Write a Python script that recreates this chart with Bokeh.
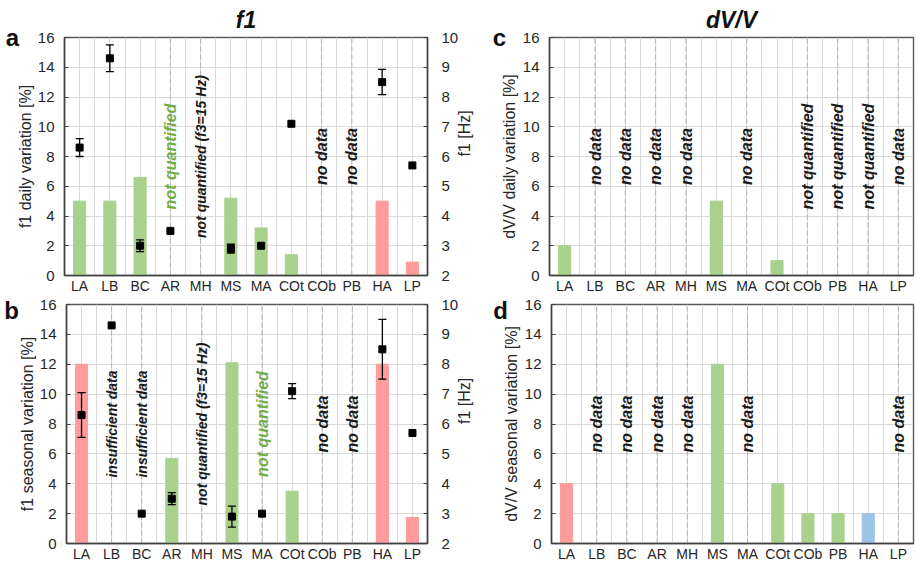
import math
from bokeh.plotting import figure
from bokeh.models import (ColumnDataSource, Range1d, LinearAxis, FixedTicker,
                          Whisker, TeeHead, Label)
from bokeh.layouts import column, row
from bokeh.embed import file_html
from bokeh.resources import INLINE
from bokeh.core.properties import value

# ---------------- data ----------------
sites = ["LA", "LB", "BC", "AR", "MH", "MS", "MA", "COt", "COb", "PB", "HA", "LP"]

# f1 fundamental frequency [Hz] (right axis, panels a & b)
f1_hz = [6.3, 9.3, 3.0, 3.5, None, 2.9, 3.0, 7.1, None, None, 8.5, 5.7]

# error ranges [Hz]
a_err_lo = [6.0, 8.85, 2.8, None, None, 2.75, None, None, None, None, 8.08, None]
a_err_hi = [6.6, 9.75, 3.2, None, None, 3.05, None, None, None, None, 8.93, None]
b_err_lo = [5.55, None, None, 3.3, None, 2.55, None, 6.85, None, None, 7.5, None]
b_err_hi = [7.05, None, None, 3.7, None, 3.25, None, 7.35, None, None, 9.5, None]

# variation bars [%]
a_bars = [5.0, 5.0, 6.6, None, None, 5.2, 3.2, 1.4, None, None, 5.0, 0.9]
a_kind = ["g", "g", "g", None, None, "g", "g", "g", None, None, "r", "r"]
b_bars = [12.0, None, None, 5.7, None, 12.1, None, 3.5, None, None, 12.0, 1.75]
b_kind = ["r", None, None, "g", None, "g", None, "g", None, None, "r", "r"]
c_bars = [2.0, None, None, None, None, 5.0, None, 1.0, None, None, None, None]
c_kind = ["g", None, None, None, None, "g", None, "g", None, None, None, None]
d_bars = [4.0, None, None, None, None, 12.0, None, 4.0, 2.0, 2.0, 2.0, None]
d_kind = ["r", None, None, None, None, "g", None, "g", "g", "g", "b", None]

# annotations (site, text, kind)
a_notes = [("AR", "not quantified", "g"), ("MH", "not quantified (f3=15 Hz)", "k"),
           ("COb", "no data", "k"), ("PB", "no data", "k")]
b_notes = [("LB", "insufficient data", "k"), ("BC", "insufficient data", "k"),
           ("MH", "not quantified (f3=15 Hz)", "k"), ("MA", "not quantified", "g"),
           ("COb", "no data", "k"), ("PB", "no data", "k")]
c_notes = [("LB", "no data", "k"), ("BC", "no data", "k"), ("AR", "no data", "k"),
           ("MH", "no data", "k"), ("MA", "no data", "k"), ("COb", "not quantified", "k"),
           ("PB", "not quantified", "k"), ("HA", "not quantified", "k"), ("LP", "no data", "k")]
d_notes = [("LB", "no data", "k"), ("BC", "no data", "k"), ("AR", "no data", "k"),
           ("MH", "no data", "k"), ("MA", "no data", "k"), ("LP", "no data", "k")]

left_ticks = [0, 2, 4, 6, 8, 10, 12, 14, 16]
right_ticks = [2, 3, 4, 5, 6, 7, 8, 9, 10]

# ---------------- style ----------------
FONT = "Liberation Sans"
BAR_COL = {"g": "#a9d18e", "r": "#ff9b9b", "b": "#9dc3e6"}
TXT_COL = {"g": "#70ad47", "k": "#1a1a1a"}
NOTE_SIZE = {"no data": "16px", "not quantified": "16px",
             "insufficient data": "14px", "not quantified (f3=15 Hz)": "14px"}
GRID = "#d9d9d9"
AXC = "#404040"
pos = {s: i + 0.5 for i, s in enumerate(sites)}


def style_axis(ax, label_size="16px"):
    ax.axis_line_color = AXC
    ax.axis_line_width = 1.5
    ax.major_label_text_font = FONT
    ax.major_label_text_color = "#262626"
    ax.minor_tick_line_color = None
    ax.axis_label_text_font = FONT
    ax.axis_label_text_font_size = label_size
    ax.axis_label_text_font_style = "normal"
    ax.axis_label_text_color = "#262626"


def make_panel(width, height, mb_left, mb_right, mb_top, mb_bottom, bars, kinds, notes,
               ylabel, letter, letter_xy, ystand, lstand, title=None, hz=False, err=None):
    p = figure(width=width, height=height, output_backend="svg", toolbar_location=None,
               x_range=Range1d(0, 12), y_range=Range1d(0, 16),
               min_border_left=mb_left, min_border_right=mb_right,
               min_border_top=mb_top, min_border_bottom=mb_bottom)
    p.background_fill_color = "white"
    p.outline_line_color = "#595959"
    p.outline_line_width = 1.4
    if title:
        p.title.text = title
        p.title.align = "center"
        p.title.text_font = FONT
        p.title.text_font_size = "23px"
        p.title.text_font_style = "bold italic"
        p.title.text_color = "#111111"
        p.title.standoff = 9
    # grids
    p.xgrid.ticker = FixedTicker(ticks=[i * 0.5 for i in range(25)])
    p.ygrid.ticker = FixedTicker(ticks=left_ticks)
    for g in (p.xgrid, p.ygrid):
        g.grid_line_color = GRID
        g.grid_line_width = 1
    # axes
    p.xaxis.ticker = FixedTicker(ticks=[pos[s] for s in sites])
    p.xaxis.major_label_overrides = {pos[s]: s for s in sites}
    p.yaxis.ticker = FixedTicker(ticks=left_ticks)
    style_axis(p.xaxis[0])
    style_axis(p.yaxis[0])
    p.xaxis.major_label_text_font_size = "14px"
    p.xaxis.major_tick_line_color = None
    p.xaxis.major_tick_in = 0
    p.xaxis.major_tick_out = 0
    p.xaxis.major_label_standoff = 2
    p.yaxis.major_label_text_font_size = "15px"
    p.yaxis.major_tick_in = 4
    p.yaxis.major_tick_out = 0
    p.yaxis.major_tick_line_color = AXC
    p.yaxis.major_label_standoff = ystand
    p.yaxis.axis_label = ylabel
    p.yaxis.axis_label_standoff = lstand

    # dashed lines for annotated sites
    ds = ColumnDataSource(dict(x=[pos[s] for s, _, _ in notes],
                               y0=[0] * len(notes), y1=[16] * len(notes)))
    p.segment(x0="x", y0="y0", x1="x", y1="y1", source=ds, line_color="#b3b3b3",
              line_width=1, line_dash="5 3")

    # bars
    bx, bt, bc = [], [], []
    for s, v, k in zip(sites, bars, kinds):
        if v is not None:
            bx.append(pos[s]); bt.append(v); bc.append(BAR_COL[k])
    p.vbar(x="x", top="top", width=0.4, bottom=0, color="c",
           source=ColumnDataSource(dict(x=bx, top=bt, c=bc)))

    # annotations
    ns = ColumnDataSource(dict(x=[pos[s] for s, _, _ in notes], y=[8] * len(notes),
                               t=[t for _, t, _ in notes],
                               c=[TXT_COL[k] for _, _, k in notes],
                               fs=[NOTE_SIZE[t] for _, t, _ in notes]))
    p.text(x="x", y="y", text="t", source=ns, angle=math.pi / 2, text_align="center",
           text_baseline="middle", text_color="c", text_font=value(FONT),
           text_font_size="fs", text_font_style="bold italic")

    # right axis with f1
    if hz:
        p.extra_y_ranges = {"hz": Range1d(2, 10)}
        ra = LinearAxis(y_range_name="hz", ticker=FixedTicker(ticks=right_ticks),
                        axis_label="f1 [Hz]")
        style_axis(ra)
        ra.major_label_text_font_size = "15px"
        ra.major_tick_in = 4
        ra.major_tick_out = 0
        ra.major_tick_line_color = AXC
        ra.major_label_standoff = 14
        ra.axis_label_standoff = 3
        try:
            ra.axis_label_orientation = math.pi / 2
        except Exception:
            pass
        p.add_layout(ra, "right")
        lo, hi = err
        ex, el, eh = [], [], []
        for s, a, b in zip(sites, lo, hi):
            if a is not None:
                ex.append(pos[s]); el.append(a); eh.append(b)
        es = ColumnDataSource(dict(x=ex, lo=el, hi=eh))
        w = Whisker(base="x", lower="lo", upper="hi", source=es, y_range_name="hz",
                    line_color="black", line_width=1.3, level="overlay",
                    upper_head=TeeHead(size=8, line_color="black", line_width=1.3),
                    lower_head=TeeHead(size=8, line_color="black", line_width=1.3))
        p.add_layout(w)
        px_, py_ = [], []
        for s, v in zip(sites, f1_hz):
            if v is not None:
                px_.append(pos[s]); py_.append(v)
        p.scatter(x="x", y="y", source=ColumnDataSource(dict(x=px_, y=py_)),
                  y_range_name="hz", marker="square", size=7, color="black")

    # panel letter (in a side panel, canvas coordinates, so it is not clipped)
    try:
        lab = Label(x=letter_xy[0], y=letter_xy[1], x_units="canvas", y_units="canvas",
                    text=letter, text_font=FONT, text_font_size="24px",
                    text_font_style="bold", text_color="#111111", text_align="center",
                    text_baseline=letter_xy[2])
    except Exception:
        lab = Label(x=letter_xy[0], y=letter_xy[1], x_units="screen", y_units="screen",
                    text=letter, text_font=FONT, text_font_size="24px",
                    text_font_style="bold", text_color="#111111", text_align="center",
                    text_baseline=letter_xy[2])
    p.add_layout(lab, "left")
    return p


# figure a: x 0-484, y 0-296 ; figure c: x 484-915 ; bottom row y 296-564
pa = make_panel(484, 296, 63, 57, 37, 20, a_bars, a_kind, a_notes,
                "f1 daily variation [%]", "a", (12, 37, "middle"), 10, 1, title="f1",
                hz=True, err=(a_err_lo, a_err_hi))
pb = make_panel(484, 268, 63, 57, 8, 21, b_bars, b_kind, b_notes,
                "f1 seasonal variation [%]", "b", (11, 0, "top"), 10, 1,
                hz=True, err=(b_err_lo, b_err_hi))
pc = make_panel(431, 296, 65, 2, 37, 20, c_bars, c_kind, c_notes,
                "dV/V daily variation [%]", "c", (15, 37, "middle"), 10, 2, title="dV/V")
pd_ = make_panel(431, 268, 65, 2, 8, 21, d_bars, d_kind, d_notes,
                 "dV/V seasonal variation [%]", "d", (16, 0, "top"), 10, 2)

layout = column(row(pa, pc), row(pb, pd_))
open("out.html", "w").write(file_html(layout, INLINE))
